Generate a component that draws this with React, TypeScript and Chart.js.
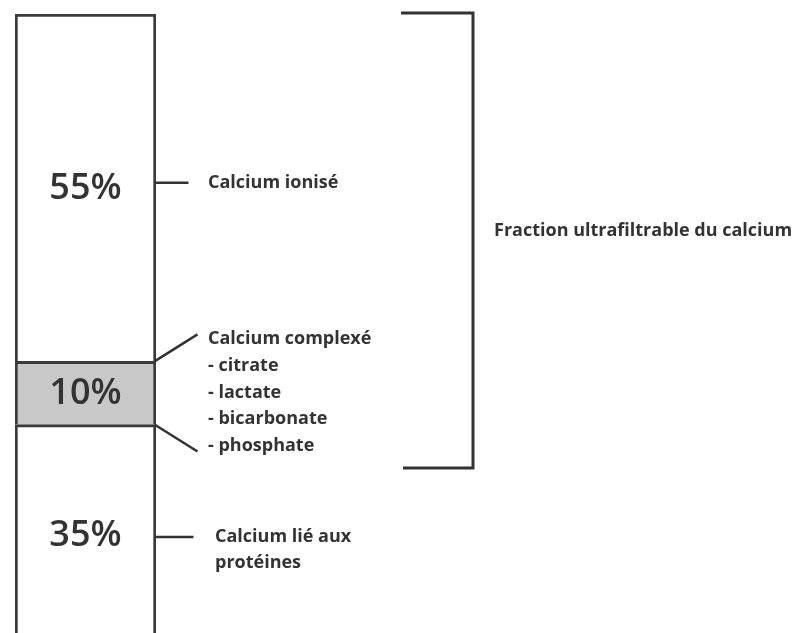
import { useEffect, useRef } from "react";
import { Chart, registerables } from "chart.js";

Chart.register(...registerables);

// ---- Data (bottom to top of the stacked column) ----
const categories = ["Calcium plasmatique"];
const fractionNames = ["Calcium lié aux protéines", "Calcium complexé", "Calcium ionisé"];
const fractionValues = [35, 10, 55];
const fractionLabels = ["35%", "10%", "55%"];
const fractionColors = ["#ffffff", "#c8c8c8", "#ffffff"];
const ionisedText = ["Calcium ionisé"];
const complexedText = ["Calcium complexé", "- citrate", "- lactate", "- bicarbonate", "- phosphate"];
const proteinText = ["Calcium lié aux", "protéines"];
const bracketText = "Fraction ultrafiltrable du calcium";

const INK = "#333333";
const LABEL_FONT = "bold 18px 'Open Sans'";

const annotations = {
  id: "annotations",
  afterDatasetsDraw(chart: any) {
    const ctx = chart.ctx as CanvasRenderingContext2D;
    const ys = chart.scales.y;
    const area = chart.chartArea;
    const cum: number[] = [0];
    fractionValues.forEach((v) => cum.push(cum[cum.length - 1] + v));
    const py = (v: number) => ys.getPixelForValue(v);
    const mid = (i: number) => py((cum[i] + cum[i + 1]) / 2);
    const cx = (area.left + area.right) / 2;
    const rx = area.right - 1.5;

    ctx.save();
    // percentage labels inside the column
    ctx.fillStyle = INK;
    ctx.textAlign = "center";
    ctx.textBaseline = "middle";
    ctx.font = "600 36px 'Open Sans'";
    fractionLabels.forEach((t, i) => ctx.fillText(t, cx, mid(i) + 1));

    ctx.strokeStyle = INK;
    ctx.lineWidth = 2.5;
    ctx.lineCap = "butt";
    const line = (x1: number, y1: number, x2: number, y2: number) => {
      ctx.beginPath();
      ctx.moveTo(x1, y1);
      ctx.lineTo(x2, y2);
      ctx.stroke();
    };

    ctx.textAlign = "left";
    ctx.font = LABEL_FONT;

    // Calcium ionisé
    const yIon = mid(2) - 5;
    line(rx, yIon, rx + 34, yIon);
    ionisedText.forEach((t, k) => ctx.fillText(t, 208, yIon + k * 26));

    // Calcium complexé
    const yTop = py(cum[2]);
    const yBot = py(cum[1]);
    line(rx, yTop, rx + 43, yTop - 27);
    line(rx, yBot, rx + 43, yBot + 27);
    const yc = mid(1);
    const offs = [-54, -27, 0, 26, 53];
    complexedText.forEach((t, k) => ctx.fillText(t, 208, yc + offs[k]));

    // Calcium lié aux protéines
    const yProt = mid(0) + 2;
    line(rx, yProt, rx + 39, yProt);
    proteinText.forEach((t, k) => ctx.fillText(t, 215, yProt + k * 26));

    // bracket for the ultrafiltrable fraction
    ctx.lineWidth = 3;
    const bTop = py(cum[3]) - 1;
    const bBot = 468;
    ctx.beginPath();
    ctx.moveTo(401, bTop);
    ctx.lineTo(473, bTop);
    ctx.lineTo(473, bBot);
    ctx.lineTo(403, bBot);
    ctx.stroke();
    ctx.fillText(bracketText, 494, 231);
    ctx.restore();
  },
};

export default function App() {
  const ref = useRef<HTMLCanvasElement>(null);
  useEffect(() => {
    if (!ref.current) return;
    const chart = new Chart(ref.current, {
      type: "bar",
      data: {
        labels: categories,
        datasets: fractionValues.map((v, i) => ({
          label: fractionNames[i],
          data: [v],
          backgroundColor: fractionColors[i],
          borderColor: "#3a3a3a",
          borderWidth: 3,
          borderSkipped: "start" as const,
          barPercentage: 1,
          categoryPercentage: 1,
          clip: 0,
        })),
      },
      options: {
        animation: false,
        responsive: true,
        maintainAspectRatio: false,
        layout: { padding: { left: 15, right: 643, top: 14, bottom: 0 } },
        plugins: { legend: { display: false }, tooltip: { enabled: false } },
        scales: {
          x: { stacked: true, display: false },
          y: { stacked: true, display: false, min: 2, max: 100 },
        },
      },
      plugins: [annotations],
    });
    return () => chart.destroy();
  }, []);
  return (
    <div style={{ position: "absolute", left: 0, top: 0, width: 799, height: 633, background: "#fff" }}>
      <canvas ref={ref} />
    </div>
  );
}
